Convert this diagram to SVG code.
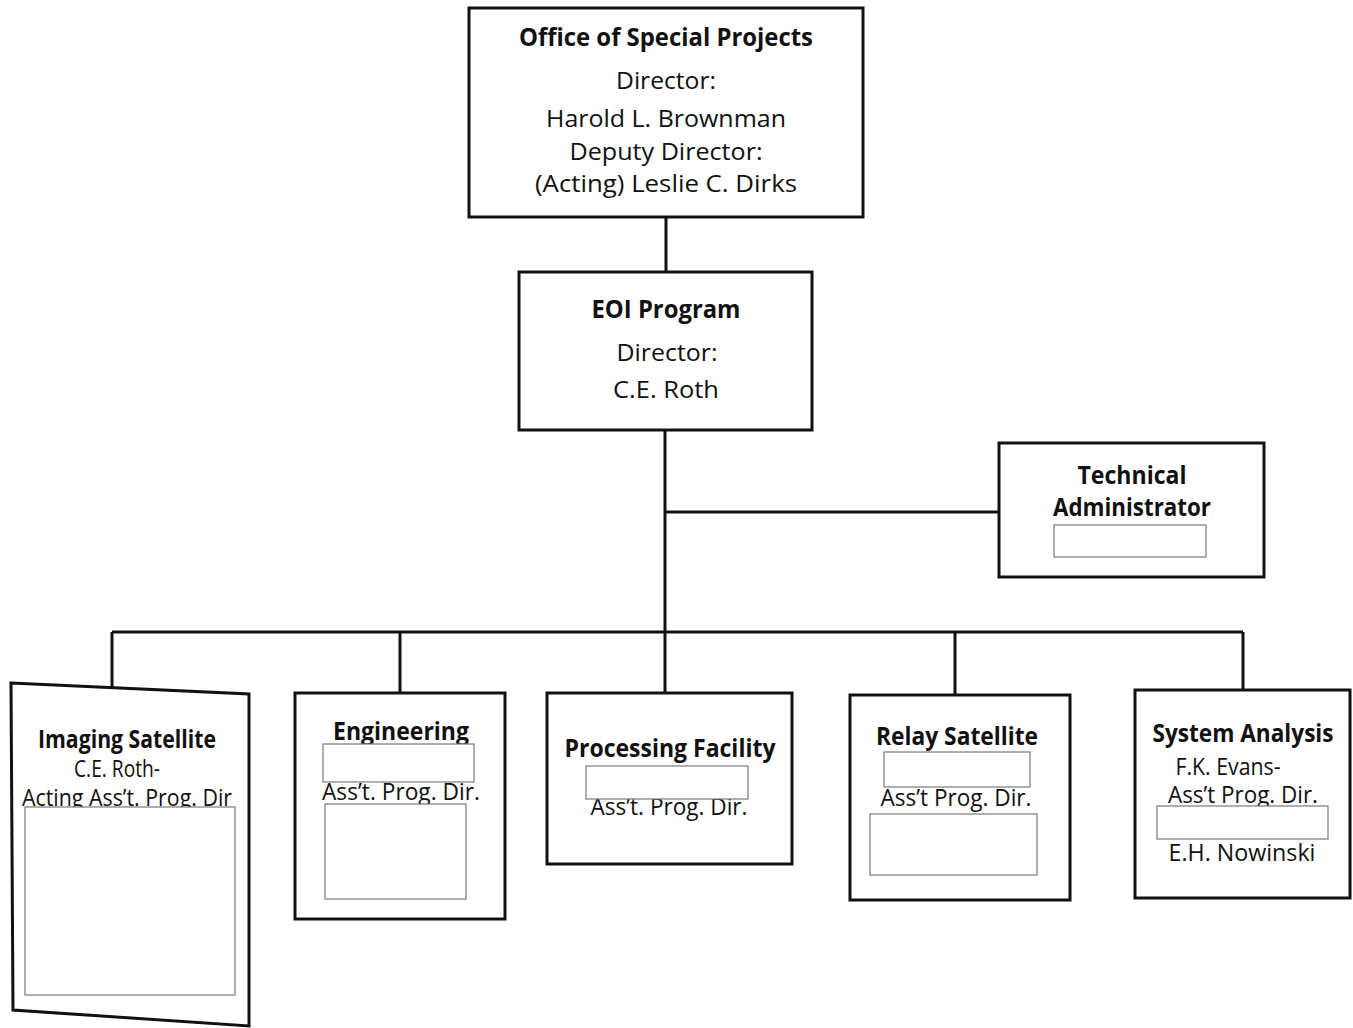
<svg xmlns="http://www.w3.org/2000/svg" width="1353" height="1028" viewBox="0 0 1353 1028">
  <style>
    .box { fill: #fff; stroke: #111; stroke-width: 3; }
    .blank { fill: #fff; stroke: #7a7a7a; stroke-width: 1.2; }
    .wire { fill: none; stroke: #111; stroke-width: 3; }
    .title { font-family: "Open Sans", "Noto Sans", sans-serif; font-weight: bold; font-size: 25px; fill: #111; text-anchor: middle; }
    .txt { font-family: "Open Sans", "Noto Sans", sans-serif; font-size: 24px; fill: #111; text-anchor: middle; }
  </style>
  <rect width="1353" height="1028" fill="#fff"/>

  <!-- connectors -->
  <g id="connectors">
    <path class="wire" d="M666 217 V272"/>
    <path class="wire" d="M665 430 V692"/>
    <path class="wire" d="M665 512 H999"/>
    <path class="wire" d="M112 632 H1243"/>
    <path class="wire" d="M112 632 V689"/>
    <path class="wire" d="M400 632 V693"/>
    <path class="wire" d="M955 632 V695"/>
    <path class="wire" d="M1243 632 V690"/>
  </g>

  <!-- top office -->
  <g id="office-special-projects">
    <rect class="box" x="469" y="8" width="394" height="209"/>
    <text class="title" x="666" y="46" textLength="294" lengthAdjust="spacingAndGlyphs">Office of Special Projects</text>
    <text class="txt" x="666" y="89" textLength="100" lengthAdjust="spacingAndGlyphs">Director:</text>
    <text class="txt" x="666" y="127" textLength="240" lengthAdjust="spacingAndGlyphs">Harold L. Brownman</text>
    <text class="txt" x="666" y="160" textLength="193" lengthAdjust="spacingAndGlyphs">Deputy Director:</text>
    <text class="txt" x="666" y="192" textLength="262" lengthAdjust="spacingAndGlyphs">(Acting) Leslie C. Dirks</text>
  </g>

  <!-- program office -->
  <g id="eoi-program">
    <rect class="box" x="519" y="272" width="293" height="158"/>
    <text class="title" x="666" y="318" textLength="149" lengthAdjust="spacingAndGlyphs">EOI Program</text>
    <text class="txt" x="667" y="361" textLength="101" lengthAdjust="spacingAndGlyphs">Director:</text>
    <text class="txt" x="666" y="398" textLength="106" lengthAdjust="spacingAndGlyphs">C.E. Roth</text>
  </g>

  <!-- staff box -->
  <g id="technical-administrator">
    <rect class="box" x="999" y="443" width="265" height="134"/>
    <text class="title" x="1132" y="484" textLength="109" lengthAdjust="spacingAndGlyphs">Technical</text>
    <text class="title" x="1132" y="516" textLength="158" lengthAdjust="spacingAndGlyphs">Administrator</text>
    <rect class="blank" x="1054" y="525" width="152" height="32"/>
  </g>

  <!-- divisions -->
  <g id="imaging-satellite">
    <path class="box" d="M11 683 L249 694 L249 1026 L13 1010 Z"/>
    <text class="title" x="127" y="748" textLength="178" lengthAdjust="spacingAndGlyphs">Imaging Satellite</text>
    <text class="txt" x="117" y="777" textLength="86" lengthAdjust="spacingAndGlyphs">C.E. Roth-</text>
    <text class="txt" x="127" y="806" textLength="210" lengthAdjust="spacingAndGlyphs">Acting Ass’t. Prog. Dir</text>
    <rect class="blank" x="25" y="807" width="210" height="188"/>
  </g>

  <g id="engineering">
    <rect class="box" x="295" y="693" width="210" height="226"/>
    <text class="title" x="401" y="740" textLength="136" lengthAdjust="spacingAndGlyphs">Engineering</text>
    <rect class="blank" x="323" y="744" width="151" height="38"/>
    <text class="txt" x="401" y="800" textLength="158" lengthAdjust="spacingAndGlyphs">Ass’t. Prog. Dir.</text>
    <rect class="blank" x="325" y="804" width="141" height="95"/>
  </g>

  <g id="processing-facility">
    <rect class="box" x="547" y="693" width="245" height="171"/>
    <text class="title" x="670" y="757" textLength="211" lengthAdjust="spacingAndGlyphs">Processing Facility</text>
    <text class="txt" x="669" y="815" textLength="157" lengthAdjust="spacingAndGlyphs">Ass’t. Prog. Dir.</text>
    <rect class="blank" x="586" y="766" width="162" height="33"/>
  </g>

  <g id="relay-satellite">
    <rect class="box" x="850" y="695" width="220" height="205"/>
    <text class="title" x="957" y="745" textLength="162" lengthAdjust="spacingAndGlyphs">Relay Satellite</text>
    <rect class="blank" x="884" y="752" width="146" height="35"/>
    <text class="txt" x="956" y="806" textLength="151" lengthAdjust="spacingAndGlyphs">Ass’t Prog. Dir.</text>
    <rect class="blank" x="870" y="814" width="167" height="61"/>
  </g>

  <g id="system-analysis">
    <rect class="box" x="1135" y="690" width="215" height="208"/>
    <text class="title" x="1243" y="742" textLength="181" lengthAdjust="spacingAndGlyphs">System Analysis</text>
    <text class="txt" x="1228" y="775" textLength="105" lengthAdjust="spacingAndGlyphs">F.K. Evans-</text>
    <text class="txt" x="1243" y="803" textLength="150" lengthAdjust="spacingAndGlyphs">Ass’t Prog. Dir.</text>
    <rect class="blank" x="1157" y="806" width="171" height="33"/>
    <text class="txt" x="1242" y="861" textLength="147" lengthAdjust="spacingAndGlyphs">E.H. Nowinski</text>
  </g>
</svg>
